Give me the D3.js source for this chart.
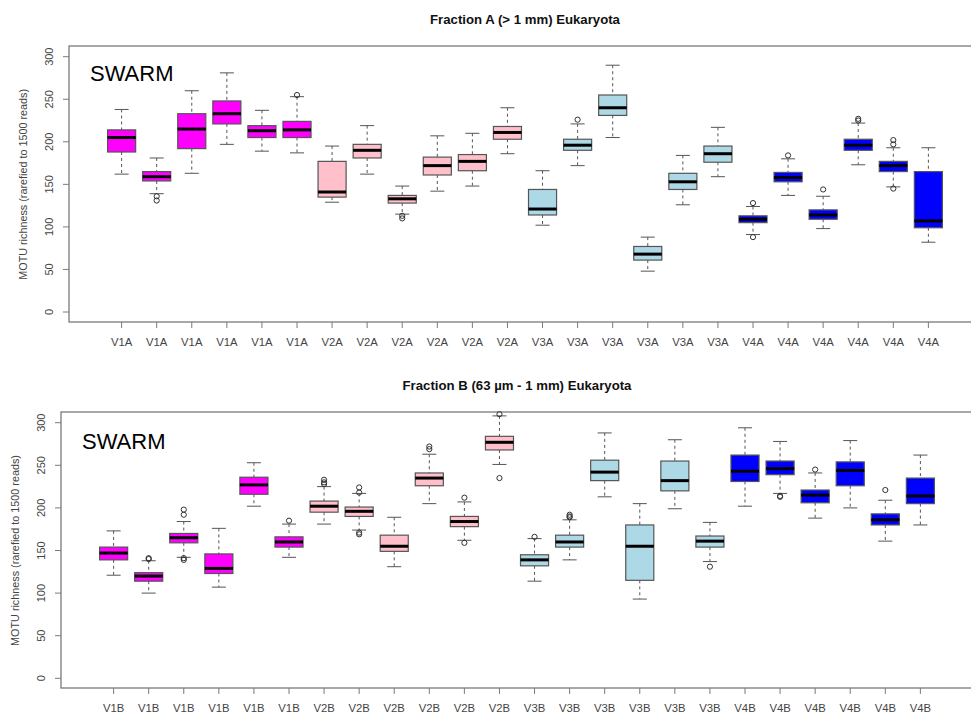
<!DOCTYPE html>
<html>
<head>
<meta charset="utf-8">
<script src="https://cdn.jsdelivr.net/npm/d3@7"></script>
<style>
  body { margin: 0; background: #fff; }
  text { font-family: "Liberation Sans", Arial, Helvetica, sans-serif; }
</style>
</head>
<body>
<script>
// group colours, 6 boxes per group
var groupColors = ['#ff00ff', '#ffc0cb', '#add8e6', '#0000ff'];

// ---- Fraction A (> 1 mm) ----
var labelsA = ['V1A','V1A','V1A','V1A','V1A','V1A','V2A','V2A','V2A','V2A','V2A','V2A',
               'V3A','V3A','V3A','V3A','V3A','V3A','V4A','V4A','V4A','V4A','V4A','V4A'];
var lowA  = [162, 139, 163, 197, 189, 187, 129, 162, 115, 142, 148, 186, 102, 172, 205, 48, 126, 159, 91, 137, 98, 173, 147, 82];
var q1A   = [188, 154, 192, 221, 205, 205, 135, 181, 128, 161, 166, 203, 114, 190, 231, 61, 144, 176, 105, 153, 109, 190, 165, 99];
var medA  = [205, 159, 215, 233, 213, 214, 141, 190, 133, 172, 177, 211, 121, 196, 240, 68, 153, 186, 109, 158, 114, 196, 172, 107];
var q3A   = [214, 165, 233, 248, 219, 224, 177, 197, 137, 182, 185, 218, 144, 203, 255, 77, 163, 195, 113, 164, 120, 203, 177, 165];
var highA = [238, 181, 260, 281, 237, 253, 195, 219, 148, 207, 210, 240, 166, 221, 290, 88, 184, 217, 124, 180, 136, 222, 193, 193];
var outA  = [[], [136, 131], [], [], [], [255], [], [], [113, 110], [], [], [],
             [], [226], [], [], [], [], [128, 88], [184], [144], [227, 225], [202, 197, 145], []];

// ---- Fraction B (63 µm - 1 mm) ----
var labelsB = ['V1B','V1B','V1B','V1B','V1B','V1B','V2B','V2B','V2B','V2B','V2B','V2B',
               'V3B','V3B','V3B','V3B','V3B','V3B','V4B','V4B','V4B','V4B','V4B','V4B'];
var lowB  = [121, 100, 142, 107, 202, 142, 181, 174, 131, 205, 162, 251, 114, 139, 213, 93, 199, 137, 202, 217, 188, 200, 161, 180];
var q1B   = [139, 114, 159, 123, 216, 154, 195, 190, 149, 226, 178, 268, 132, 154, 232, 115, 220, 154, 231, 239, 206, 226, 180, 205];
var medB  = [147, 120, 165, 129, 227, 160, 202, 196, 155, 235, 184, 277, 139, 160, 242, 155, 232, 161, 243, 246, 215, 244, 186, 214];
var q3B   = [154, 124, 170, 146, 236, 166, 208, 201, 168, 241, 190, 284, 145, 168, 256, 180, 255, 167, 262, 255, 221, 254, 193, 235];
var highB = [173, 138, 184, 176, 253, 181, 225, 217, 189, 263, 207, 308, 164, 186, 288, 205, 280, 183, 294, 278, 241, 279, 209, 262];
var outB  = [[], [141, 140], [198, 192, 141, 139], [], [], [185], [233, 230, 228], [224, 218, 171, 169], [], [272, 269], [212, 159], [310, 235],
             [166], [192, 190, 189], [], [], [], [131], [], [214, 213], [245], [], [221], []];

var yTicks = [0, 50, 100, 150, 200, 250, 300];

var W = 971, H = 715;
var svg = d3.select('body').append('svg')
    .attr('width', W)
    .attr('height', H);

function panel(cfg, labels, low, q1, med, q3, high, out) {
    var g = svg.append('g');
    var n = labels.length;

    var x = d3.scaleLinear().domain([-0.5, n + 1.5]).range([cfg.left, cfg.right]);
    var y = d3.scaleLinear().domain([0, 300]).range([cfg.y0, cfg.y300]);

    var rows = labels.map(function(l, i) {
        return {label: l, pos: i + 1, low: low[i], q1: q1[i], med: med[i], q3: q3[i], high: high[i],
                out: out[i], color: groupColors[Math.floor(i / 6)]};
    });

    var step = x(2) - x(1);
    var bw = step * 0.8;
    var cw = bw * 0.5;

    // frame
    g.append('rect')
        .attr('x', cfg.left).attr('y', cfg.top)
        .attr('width', cfg.right - cfg.left).attr('height', cfg.bottom - cfg.top)
        .attr('fill', 'none').attr('stroke', '#7a7a7a').attr('stroke-width', 1.3);

    // y axis
    var ya = g.append('g');
    ya.selectAll('line').data(yTicks).enter().append('line')
        .attr('x1', cfg.left - 6).attr('x2', cfg.left)
        .attr('y1', function(d) { return y(d); }).attr('y2', function(d) { return y(d); })
        .attr('stroke', '#7a7a7a');
    ya.selectAll('text').data(yTicks).enter().append('text')
        .attr('transform', function(d) { return 'translate(' + cfg.tickLabX + ',' + y(d) + ') rotate(-90)'; })
        .attr('dy', '0.35em')
        .attr('text-anchor', 'middle')
        .attr('font-size', 11)
        .attr('fill', '#444')
        .text(function(d) { return d; });

    g.append('text')
        .attr('transform', 'translate(' + cfg.yLabX + ',' + y(150) + ') rotate(-90)')
        .attr('dy', '0.35em')
        .attr('text-anchor', 'middle')
        .attr('font-size', 10.8)
        .attr('fill', '#444')
        .text('MOTU richness (rarefied to 1500 reads)');

    // x axis
    var xa = g.append('g');
    xa.selectAll('line').data(rows).enter().append('line')
        .attr('x1', function(d) { return x(d.pos); }).attr('x2', function(d) { return x(d.pos); })
        .attr('y1', cfg.bottom).attr('y2', cfg.bottom + 6)
        .attr('stroke', '#7a7a7a');
    xa.selectAll('text').data(rows).enter().append('text')
        .attr('x', function(d) { return x(d.pos); })
        .attr('y', cfg.bottom + 23.5)
        .attr('text-anchor', 'middle')
        .attr('font-size', 11.3)
        .attr('fill', '#444')
        .text(function(d) { return d.label; });

    // title
    g.append('text')
        .attr('x', (cfg.left + cfg.right) / 2)
        .attr('y', cfg.titleY)
        .attr('text-anchor', 'middle')
        .attr('font-size', 13.2)
        .attr('font-weight', 'bold')
        .attr('fill', '#111')
        .text(cfg.title);

    g.append('text')
        .attr('x', cfg.swarmX).attr('y', cfg.swarmY)
        .attr('font-size', 22)
        .attr('fill', '#000')
        .text('SWARM');

    // boxes
    var b = g.selectAll('.box').data(rows).enter().append('g').attr('class', 'box');

    b.append('line')
        .attr('x1', function(d) { return x(d.pos); }).attr('x2', function(d) { return x(d.pos); })
        .attr('y1', function(d) { return y(d.high); }).attr('y2', function(d) { return y(d.q3); })
        .attr('stroke', '#555').attr('stroke-dasharray', '3,3');
    b.append('line')
        .attr('x1', function(d) { return x(d.pos); }).attr('x2', function(d) { return x(d.pos); })
        .attr('y1', function(d) { return y(d.q1); }).attr('y2', function(d) { return y(d.low); })
        .attr('stroke', '#555').attr('stroke-dasharray', '3,3');
    b.append('line')
        .attr('x1', function(d) { return x(d.pos) - cw / 2; }).attr('x2', function(d) { return x(d.pos) + cw / 2; })
        .attr('y1', function(d) { return y(d.high); }).attr('y2', function(d) { return y(d.high); })
        .attr('stroke', '#555');
    b.append('line')
        .attr('x1', function(d) { return x(d.pos) - cw / 2; }).attr('x2', function(d) { return x(d.pos) + cw / 2; })
        .attr('y1', function(d) { return y(d.low); }).attr('y2', function(d) { return y(d.low); })
        .attr('stroke', '#555');

    b.append('rect')
        .attr('x', function(d) { return x(d.pos) - bw / 2; })
        .attr('y', function(d) { return y(d.q3); })
        .attr('width', bw)
        .attr('height', function(d) { return y(d.q1) - y(d.q3); })
        .attr('fill', function(d) { return d.color; })
        .attr('stroke', '#555').attr('stroke-width', 1.2);

    b.append('line')
        .attr('x1', function(d) { return x(d.pos) - bw / 2; }).attr('x2', function(d) { return x(d.pos) + bw / 2; })
        .attr('y1', function(d) { return y(d.med); }).attr('y2', function(d) { return y(d.med); })
        .attr('stroke', '#000').attr('stroke-width', 3);

    b.selectAll('circle').data(function(d) { return d.out.map(function(v) { return {pos: d.pos, v: v}; }); })
        .enter().append('circle')
        .attr('cx', function(d) { return x(d.pos); })
        .attr('cy', function(d) { return y(d.v); })
        .attr('r', 2.6)
        .attr('fill', 'none')
        .attr('stroke', '#333');
}

panel({left: 69, right: 981, top: 46, bottom: 322, y0: 312, y300: 56.7,
       tickLabX: 49, yLabX: 23, titleY: 23.5, swarmX: 90, swarmY: 81,
       title: 'Fraction A (> 1 mm) Eukaryota'},
      labelsA, lowA, q1A, medA, q3A, highA, outA);

panel({left: 61, right: 973, top: 412, bottom: 688, y0: 678.3, y300: 422.7,
       tickLabX: 41.5, yLabX: 15, titleY: 390, swarmX: 82, swarmY: 449,
       title: 'Fraction B (63 \u00b5m - 1 mm) Eukaryota'},
      labelsB, lowB, q1B, medB, q3B, highB, outB);
</script>
</body>
</html>
